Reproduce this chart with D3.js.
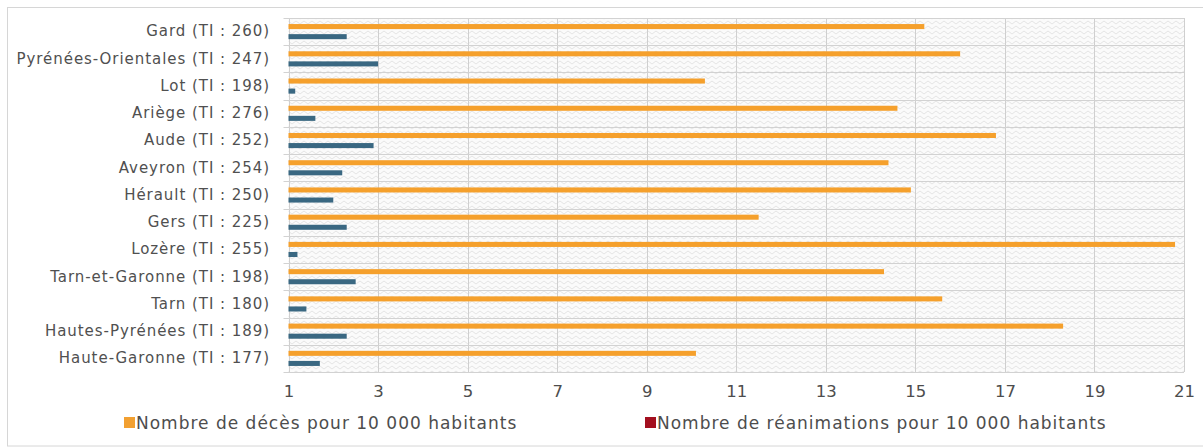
<!DOCTYPE html>
<html>
<head>
<meta charset="utf-8">
<script src="https://cdn.jsdelivr.net/npm/d3@7"></script>
<style>
  html, body { margin: 0; padding: 0; background: #fff; }
  svg { display: block; font-family: "DejaVu Sans", Verdana, sans-serif; }
</style>
</head>
<body>
<svg id="chart" width="1203" height="448"></svg>
<script>
// Départements (taux d'incidence entre parenthèses)
const categories = [
  "Gard (TI : 260)",
  "Pyrénées-Orientales (TI : 247)",
  "Lot (TI : 198)",
  "Ariège (TI : 276)",
  "Aude (TI : 252)",
  "Aveyron (TI : 254)",
  "Hérault (TI : 250)",
  "Gers (TI : 225)",
  "Lozère (TI : 255)",
  "Tarn-et-Garonne (TI : 198)",
  "Tarn (TI : 180)",
  "Hautes-Pyrénées (TI : 189)",
  "Haute-Garonne (TI : 177)"
];
const deces = [15.2, 16.0, 10.3, 14.6, 16.8, 14.4, 14.9, 11.5, 20.8, 14.3, 15.6, 18.3, 10.1];
const reanimations = [2.3, 3.0, 1.15, 1.6, 2.9, 2.2, 2.0, 2.3, 1.2, 2.5, 1.4, 2.3, 1.7];
const xTicks = [1, 3, 5, 7, 9, 11, 13, 15, 17, 19, 21];
const seriesNames = ["Nombre de décès pour 10 000 habitants", "Nombre de réanimations pour 10 000 habitants"];

const svg = d3.select("#chart");
const plot = { left: 288.5, right: 1184, top: 18, bottom: 372 };

// zigzag hatch for the plot background
const defs = svg.append("defs");
const pat = defs.append("pattern")
  .attr("id", "hatch").attr("patternUnits", "userSpaceOnUse")
  .attr("width", 8).attr("height", 5);
pat.append("rect").attr("width", 8).attr("height", 5).attr("fill", "#fbfbfb");
pat.append("path").attr("d", "M0,1 L4,4 L8,1")
  .attr("fill", "none").attr("stroke", "#dedede").attr("stroke-width", 0.8);

// outer frame
svg.append("rect")
  .attr("x", 7.5).attr("y", 7.5).attr("width", 1220).attr("height", 438.5)
  .attr("fill", "none").attr("stroke", "#d6d6d6");

const x = d3.scaleLinear().domain([1, 21]).range([plot.left, plot.right]);
const y0 = d3.scaleBand().domain(categories).range([plot.top, plot.bottom]).padding(0);
const y1 = d3.scaleBand().domain([0, 1]).range([0, y0.bandwidth()])
  .paddingInner(0.5).paddingOuter(0.6);

svg.append("rect")
  .attr("x", plot.left).attr("y", plot.top)
  .attr("width", plot.right - plot.left).attr("height", plot.bottom - plot.top)
  .attr("fill", "url(#hatch)");

// vertical grid
svg.append("g").selectAll("line").data(xTicks).join("line")
  .attr("x1", d => Math.round(x(d)) + 0.5).attr("x2", d => Math.round(x(d)) + 0.5)
  .attr("y1", plot.top).attr("y2", plot.bottom)
  .attr("stroke", "#cfcfcf");

// horizontal grid at category boundaries
const bounds = categories.map(c => y0(c)).concat([plot.bottom]);
svg.append("g").selectAll("line").data(bounds).join("line")
  .attr("x1", plot.left - 5).attr("x2", plot.right)
  .attr("y1", d => Math.round(d) + 0.5).attr("y2", d => Math.round(d) + 0.5)
  .attr("stroke", "#d2d2d2");

// bars
const colors = ["#f5a02c", "#3a6882"];
const rows = categories.map((c, i) => ({ c, v: [deces[i], reanimations[i]] }));
const g = svg.append("g");
rows.forEach(r => {
  r.v.forEach((v, k) => {
    g.append("rect")
      .attr("x", x(1))
      .attr("y", y0(r.c) + y1(k))
      .attr("width", x(v) - x(1))
      .attr("height", y1.bandwidth())
      .attr("fill", colors[k]);
  });
});

// category labels
const yAxis = d3.axisLeft(y0).tickSize(0).tickPadding(0);
svg.append("g")
  .attr("transform", `translate(270,0)`)
  .call(yAxis)
  .call(s => s.select(".domain").remove())
  .selectAll("text")
  .attr("font-size", 15)
  .attr("letter-spacing", 0.95)
  .attr("font-family", "DejaVu Sans, sans-serif")
  .attr("fill", "#505050");

// x tick labels
const xAxis = d3.axisBottom(x).tickValues(xTicks).tickSize(0).tickPadding(0);
svg.append("g")
  .attr("transform", `translate(0,385)`)
  .call(xAxis)
  .call(s => s.select(".domain").remove())
  .selectAll("text")
  .attr("font-size", 16.5)
  .attr("font-family", "DejaVu Sans, sans-serif")
  .attr("fill", "#4d4d4d");

// legend
const legendColors = ["#f2a031", "#a30f1f"];
const legendX = [124, 645];
const lg = svg.append("g");
seriesNames.forEach((n, i) => {
  lg.append("rect").attr("x", legendX[i]).attr("y", 417).attr("width", 11).attr("height", 11)
    .attr("fill", legendColors[i]);
  lg.append("text").attr("x", legendX[i] + 12).attr("y", 429)
    .attr("font-size", 17).attr("letter-spacing", 1).attr("fill", "#4d4d4d").text(n);
});
</script>
</body>
</html>
